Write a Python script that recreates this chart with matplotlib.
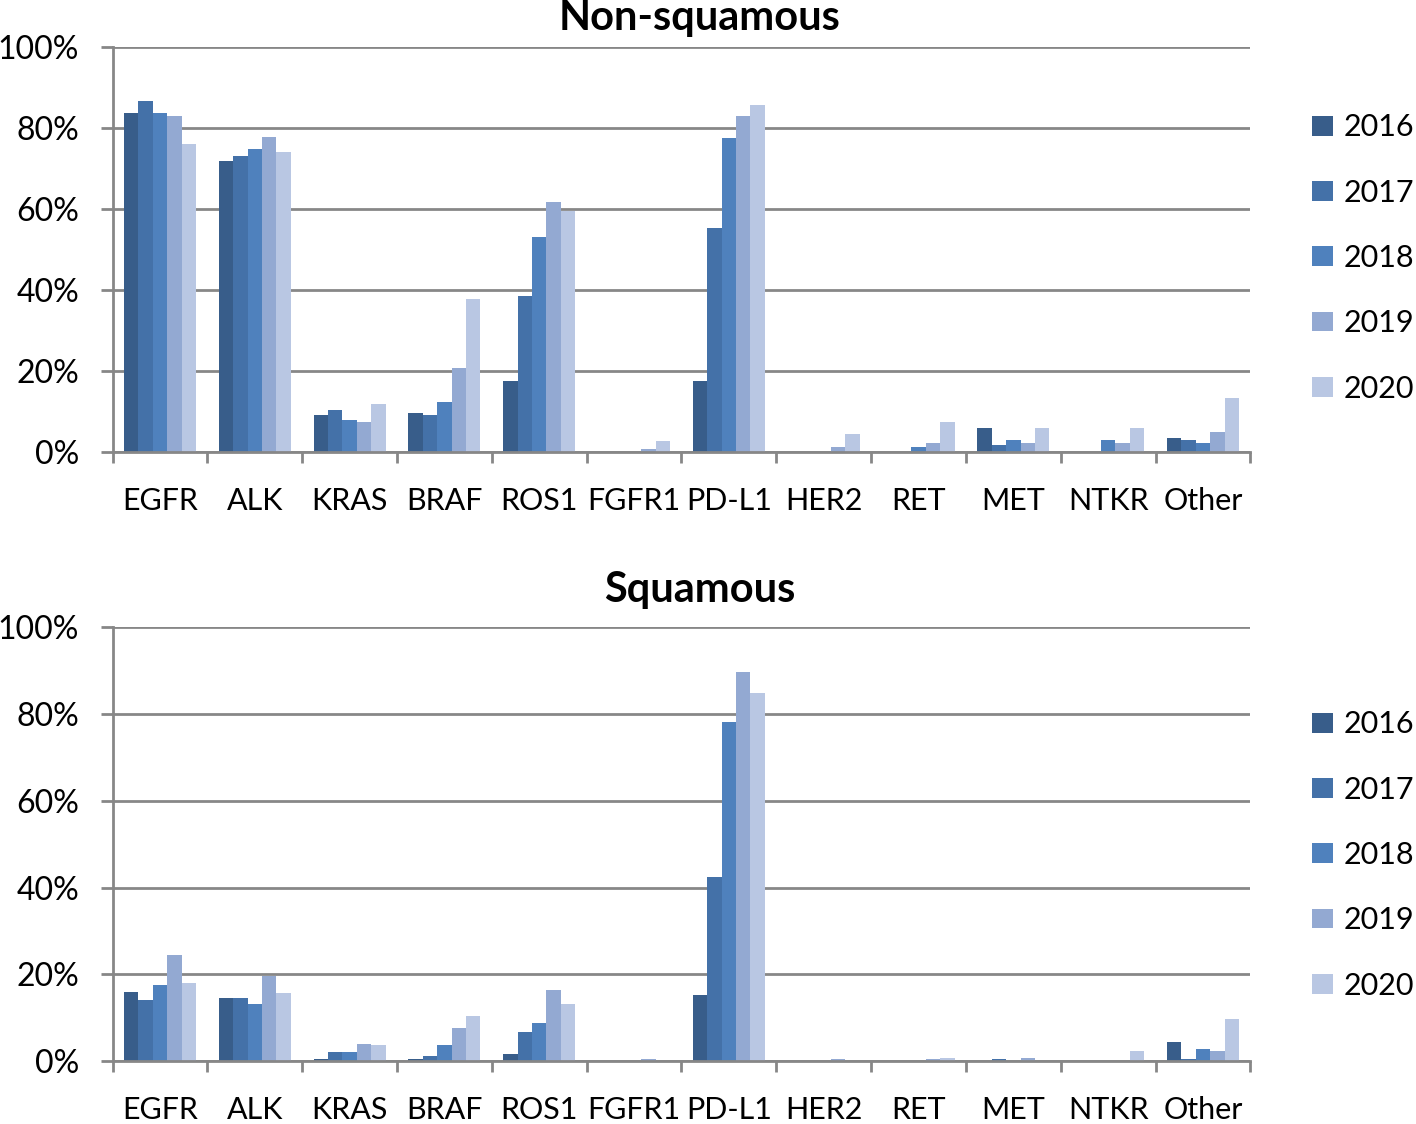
import matplotlib
matplotlib.use("Agg")
import matplotlib.pyplot as plt
import numpy as np
from matplotlib.patches import Patch

genes = ["EGFR", "ALK", "KRAS", "BRAF", "ROS1", "FGFR1", "PD-L1", "HER2", "RET", "MET", "NTKR", "Other"]
years = ["2016", "2017", "2018", "2019", "2020"]
colors = ["#385D8A", "#4471A8", "#4F81BD", "#93A9D2", "#B9C7E3"]

# Non-squamous, % tested per year
nonsq_2016 = [83.8, 71.9, 9.2, 9.7, 17.4, 0.0, 17.4, 0.0, 0.0, 6.0, 0.0, 3.5]
nonsq_2017 = [86.8, 73.1, 10.4, 9.2, 38.6, 0.0, 55.2, 0.0, 0.0, 1.7, 0.0, 3.0]
nonsq_2018 = [83.8, 74.8, 7.9, 12.2, 53.0, 0.0, 77.5, 0.0, 1.3, 3.0, 3.0, 2.1]
nonsq_2019 = [83.0, 77.8, 7.5, 20.7, 61.7, 0.8, 83.0, 1.3, 2.1, 2.1, 2.1, 4.8]
nonsq_2020 = [76.2, 74.1, 11.8, 37.8, 59.5, 2.8, 85.7, 4.4, 7.3, 6.0, 6.0, 13.3]

# Squamous
sq_2016 = [16.0, 14.5, 0.5, 0.5, 1.6, 0.0, 15.2, 0.0, 0.0, 0.0, 0.0, 4.5]
sq_2017 = [14.0, 14.5, 2.0, 1.2, 6.8, 0.0, 42.4, 0.0, 0.0, 0.5, 0.0, 0.5]
sq_2018 = [17.6, 13.2, 2.0, 3.6, 8.7, 0.0, 78.1, 0.0, 0.0, 0.0, 0.0, 2.8]
sq_2019 = [24.5, 19.6, 4.0, 7.6, 16.4, 0.5, 89.6, 0.5, 0.5, 0.8, 0.0, 2.4]
sq_2020 = [18.1, 15.6, 3.6, 10.4, 13.2, 0.0, 84.9, 0.0, 0.8, 0.0, 2.4, 9.6]

plt.rcParams['font.family'] = ['Lato', 'DejaVu Sans']
grid_c = "#878787"

fig = plt.figure(figsize=(14.16, 11.24), dpi=100)
ax1 = fig.add_axes([0.0795, 0.598, 0.8035, 0.360])
ax2 = fig.add_axes([0.0795, 0.056, 0.8035, 0.386])


def draw(ax, series, title, ty, leg_y):
    x = np.arange(len(genes))
    w = 0.152
    for i, vals in enumerate(series):
        ax.bar(x + (i - 2) * w, vals, width=w, color=colors[i], label=years[i])
    ax.set_xlim(-0.5, len(genes) - 0.5)
    ax.set_ylim(0, 100)
    ax.set_yticks([0, 20, 40, 60, 80, 100])
    ax.set_yticklabels(["0%", "20%", "40%", "60%", "80%", "100%"], fontsize=23)
    ax.set_xticks(x)
    ax.set_xticklabels(genes, fontsize=22)
    ax.set_xticks(np.arange(-0.5, len(genes)), minor=True)
    ax.tick_params(axis='x', which='major', length=0, pad=25)
    ax.tick_params(axis='x', which='minor', length=8, width=2, color=grid_c, direction='out')
    ax.tick_params(axis='y', length=9, width=2, color=grid_c, pad=15)
    ax.yaxis.grid(True, color=grid_c, linewidth=2)
    ax.set_axisbelow(True)
    for s in ["top", "right"]:
        ax.spines[s].set_visible(False)
    for s in ["left", "bottom"]:
        ax.spines[s].set_color(grid_c)
        ax.spines[s].set_linewidth(2)
    handles = [Patch(facecolor=c, edgecolor='none') for c in colors]
    ax.legend(handles, years, loc='center left', bbox_to_anchor=(1.054, leg_y), frameon=False,
              fontsize=22, labelspacing=1.22, handlelength=0.68, handleheight=0.62,
              handletextpad=0.35, borderpad=0, borderaxespad=0)
    fig.text(0.494, ty, title, ha='center', va='center', fontsize=30, fontweight='bold')


draw(ax1, [nonsq_2016, nonsq_2017, nonsq_2018, nonsq_2019, nonsq_2020], "Non-squamous", 0.984, 0.479)
draw(ax2, [sq_2016, sq_2017, sq_2018, sq_2019, sq_2020], "Squamous", 0.475, 0.475)

fig.savefig("out.png", dpi=100)
